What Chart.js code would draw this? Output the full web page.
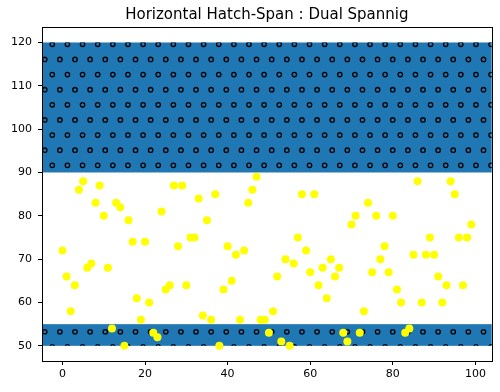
<!DOCTYPE html>
<html>
<head>
<meta charset="utf-8">
<script src="https://cdn.jsdelivr.net/npm/chart.js@4"></script>
<style>
  html, body { margin: 0; padding: 0; background: #fff; }
  #wrap { width: 500px; height: 392px; position: relative; }
</style>
</head>
<body>
<div id="wrap"><canvas id="chart"></canvas></div>
<script>
// ── Données ─────────────────────────────────────────────────
const xValues = [
   0,  1,  2,  3,  4,  5,  6,  7,  8,  9, 10, 11, 12, 13, 14, 15, 16, 17, 18, 19,
  20, 21, 22, 23, 24, 25, 26, 27, 28, 29, 30, 31, 32, 33, 34, 35, 36, 37, 38, 39,
  40, 41, 42, 43, 44, 45, 46, 47, 48, 49, 50, 51, 52, 53, 54, 55, 56, 57, 58, 59,
  60, 61, 62, 63, 64, 65, 66, 67, 68, 69, 70, 71, 72, 73, 74, 75, 76, 77, 78, 79,
  80, 81, 82, 83, 84, 85, 86, 87, 88, 89, 90, 91, 92, 93, 94, 95, 96, 97, 98, 99
];
const yValues = [
  72, 66, 58, 64, 86, 88, 68, 69, 83, 87, 80, 68, 54, 83, 82, 50, 79, 74, 61, 56,
  74, 60, 53, 52, 81, 63, 64, 87, 73, 87, 64, 75, 75, 84, 57, 79, 56, 85, 50, 63,
  73, 65, 71, 56, 72, 83, 86, 89, 56, 56, 53, 58, 66, 51, 70, 50, 69, 75, 85, 72,
  67, 85, 64, 68, 61, 70, 66, 68, 53, 51, 78, 80, 53, 58, 83, 67, 80, 70, 73, 67,
  80, 63, 60, 53, 54, 71, 88, 60, 71, 75, 71, 66, 60, 64, 88, 85, 75, 64, 75, 78
];

// bandes horizontales (axhspan)
const bandLows  = [90, 50];
const bandHighs = [120, 55];

const xTicks = [0, 20, 40, 60, 80, 100];
const yTicks = [50, 60, 70, 80, 90, 100, 110, 120];

const X_MIN = -4.95, X_MAX = 103.95;
const Y_MIN = 46.5,  Y_MAX = 123.5;

// ── Styles ──────────────────────────────────────────────────
const BAND_COLOR  = '#1f77b4';
const POINT_COLOR = '#ffff00';
const FONT        = 'DejaVu Sans';

// motif de hachures 'o' (ancré sur le canevas, comme matplotlib)
const HATCH_STEP   = 15.13;
const HATCH_Y0     = 44.3;
const HATCH_X_EVEN = 52.3;
const HATCH_R      = 2.2;

const spansPlugin = {
  id: 'spans',
  beforeDatasetsDraw(chart) {
    const { ctx, chartArea: a, scales: { y } } = chart;
    ctx.save();
    bandLows.forEach((lo, i) => {
      const top = y.getPixelForValue(bandHighs[i]);
      const bot = y.getPixelForValue(lo);
      const w   = a.right - a.left;

      ctx.fillStyle = BAND_COLOR;
      ctx.fillRect(a.left, top, w, bot - top);

      ctx.save();
      ctx.beginPath();
      ctx.rect(a.left, top, w, bot - top);
      ctx.clip();
      ctx.strokeStyle = '#000';
      ctx.lineWidth   = 1.3;
      const k0 = Math.floor((top - HATCH_Y0) / HATCH_STEP) - 1;
      const k1 = Math.ceil((bot - HATCH_Y0) / HATCH_STEP) + 1;
      for (let k = k0; k <= k1; k++) {
        const yk  = HATCH_Y0 + k * HATCH_STEP;
        const odd = ((k % 2) + 2) % 2 === 1;
        let x = odd ? HATCH_X_EVEN - HATCH_STEP / 2 : HATCH_X_EVEN;
        while (x > a.left - HATCH_STEP) x -= HATCH_STEP;
        for (; x < a.right + HATCH_STEP; x += HATCH_STEP) {
          ctx.beginPath();
          ctx.arc(x, yk, HATCH_R, 0, Math.PI * 2);
          ctx.stroke();
        }
      }
      ctx.restore();
    });
    ctx.restore();
  }
};

// cadre complet (4 spines)
const framePlugin = {
  id: 'frame',
  afterDraw(chart) {
    const { ctx, chartArea: a } = chart;
    ctx.save();
    ctx.strokeStyle = '#000';
    ctx.lineWidth   = 1;
    ctx.strokeRect(Math.round(a.left) + 0.5, Math.round(a.top) + 0.5,
                   Math.round(a.right - a.left), Math.round(a.bottom - a.top));
    ctx.restore();
  }
};

const points = xValues.map((x, i) => ({ x: x, y: yValues[i] }));

new Chart(document.getElementById('chart'), {
  type: 'scatter',
  data: {
    datasets: [{
      data            : points,
      backgroundColor : POINT_COLOR,
      borderWidth     : 0,
      pointRadius     : 4,
      pointHoverRadius: 4
    }]
  },
  options: {
    responsive         : true,
    maintainAspectRatio: false,
    animation          : false,
    events             : [],
    layout: { padding: { left: 0, right: 8.3, top: 0, bottom: 0 } },
    plugins: {
      legend : { display: false },
      tooltip: { enabled: false },
      title  : {
        display : true,
        text    : 'Horizontal Hatch-Span : Dual Spannig',
        fullSize: false,
        color   : '#000',
        font    : { family: FONT, size: 15, weight: 'normal' },
        padding : { top: 6, bottom: 3.3 }
      }
    },
    scales: {
      x: {
        type: 'linear',
        min : X_MIN,
        max : X_MAX,
        afterBuildTicks: s => { s.ticks = xTicks.map(v => ({ value: v })); },
        afterFit: s => { s.height = 31; },
        grid  : { drawOnChartArea: false, drawTicks: true, tickLength: 4, color: '#000' },
        border: { color: '#000', width: 1 },
        ticks : { color: '#000', padding: 3, font: { family: FONT, size: 11 } }
      },
      y: {
        type: 'linear',
        min : Y_MIN,
        max : Y_MAX,
        afterBuildTicks: s => { s.ticks = yTicks.map(v => ({ value: v })); },
        afterFit: s => { s.width = 42; },
        grid  : { drawOnChartArea: false, drawTicks: true, tickLength: 4, color: '#000' },
        border: { color: '#000', width: 1 },
        ticks : { color: '#000', padding: 6, font: { family: FONT, size: 11 } }
      }
    }
  },
  plugins: [spansPlugin, framePlugin]
});
</script>
</body>
</html>
